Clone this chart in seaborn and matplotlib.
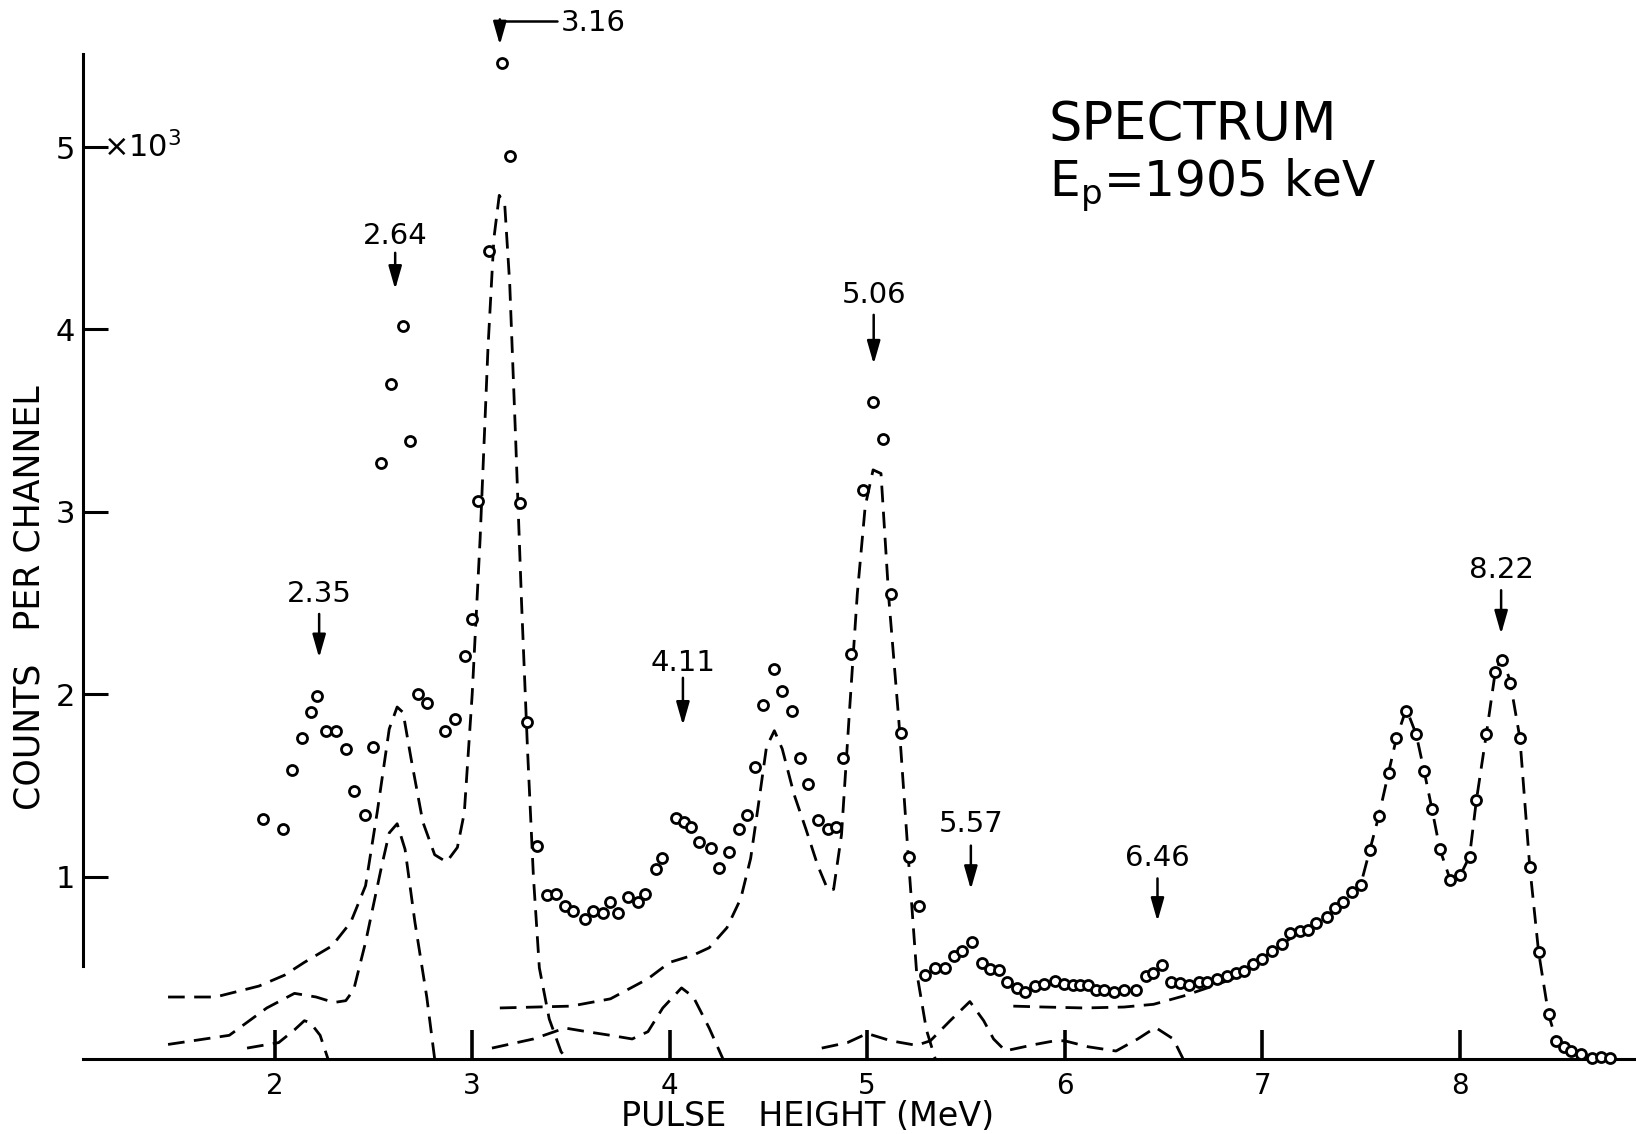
import matplotlib
matplotlib.use("Agg")
import matplotlib.pyplot as plt
import pandas as pd
import seaborn as sns

# === data (MeV, counts per channel in 10^3) ===
energy = [1.94, 2.04, 2.09, 2.14, 2.185, 2.215, 2.26, 2.31, 2.36, 2.40, 2.455, 2.50,
          2.54, 2.59, 2.65, 2.686, 2.726, 2.77, 2.863, 2.915, 2.963, 3.00, 3.03, 3.085,
          3.15, 3.19, 3.24, 3.28, 3.326, 3.378, 3.426, 3.47, 3.51, 3.57, 3.61, 3.66,
          3.70, 3.74, 3.79, 3.84, 3.875, 3.93, 3.96, 4.03, 4.07, 4.11, 4.15, 4.21,
          4.25, 4.30, 4.35, 4.39, 4.43, 4.475, 4.53, 4.57, 4.62, 4.66, 4.70, 4.75,
          4.80, 4.84, 4.88, 4.92, 4.98, 5.03, 5.08, 5.12, 5.17, 5.21, 5.26, 5.295,
          5.345, 5.395, 5.44, 5.48, 5.53, 5.58, 5.62, 5.67, 5.71, 5.76, 5.80, 5.85,
          5.895, 5.95, 5.995, 6.04, 6.08, 6.12, 6.16, 6.20, 6.25, 6.30, 6.36, 6.41,
          6.445, 6.495, 6.54, 6.585, 6.63, 6.68, 6.72, 6.77, 6.82, 6.87, 6.91, 6.955,
          7.00, 7.05, 7.10, 7.14, 7.19, 7.23, 7.275, 7.33, 7.37, 7.41, 7.455, 7.50,
          7.545, 7.59, 7.64, 7.68, 7.73, 7.78, 7.82, 7.86, 7.90, 7.95, 8.00, 8.05,
          8.085, 8.135, 8.18, 8.213, 8.254, 8.305, 8.355, 8.40, 8.45, 8.49, 8.53, 8.565,
          8.615, 8.67, 8.717, 8.76]
counts = [1.315, 1.26, 1.585, 1.76, 1.90, 1.99, 1.80, 1.80, 1.70, 1.47, 1.34, 1.71,
          3.27, 3.70, 4.02, 3.39, 2.00, 1.95, 1.80, 1.865, 2.21, 2.41, 3.06, 4.43,
          5.46, 4.95, 3.05, 1.85, 1.17, 0.90, 0.904, 0.84, 0.81, 0.77, 0.81, 0.80,
          0.86, 0.80, 0.89, 0.86, 0.906, 1.04, 1.10, 1.32, 1.30, 1.27, 1.19, 1.155,
          1.05, 1.135, 1.26, 1.34, 1.60, 1.94, 2.14, 2.02, 1.91, 1.65, 1.51, 1.31,
          1.26, 1.27, 1.65, 2.22, 3.12, 3.60, 3.40, 2.55, 1.79, 1.11, 0.84, 0.46,
          0.50, 0.50, 0.565, 0.59, 0.64, 0.525, 0.495, 0.49, 0.42, 0.39, 0.37, 0.40,
          0.41, 0.43, 0.41, 0.405, 0.405, 0.405, 0.38, 0.38, 0.37, 0.38, 0.38, 0.455,
          0.47, 0.515, 0.42, 0.415, 0.405, 0.42, 0.42, 0.44, 0.455, 0.47, 0.485, 0.52,
          0.55, 0.595, 0.63, 0.69, 0.70, 0.71, 0.745, 0.78, 0.83, 0.86, 0.915, 0.955,
          1.145, 1.33, 1.57, 1.76, 1.91, 1.78, 1.58, 1.37, 1.15, 0.98, 1.01, 1.11,
          1.42, 1.78, 2.12, 2.19, 2.06, 1.76, 1.055, 0.585, 0.245, 0.10, 0.067, 0.044,
          0.027, 0.005, 0.01, 0.005]

# dashed line shapes
shape_a_x = [1.46, 1.70, 1.92, 2.05, 2.15, 2.29, 2.385, 2.46, 2.52, 2.58, 2.62, 2.65,
             2.69, 2.75, 2.81, 2.87, 2.925, 2.96, 3.00, 3.04, 3.08, 3.11, 3.137, 3.165,
             3.19, 3.22, 3.25, 3.28, 3.31, 3.34, 3.39, 3.45, 3.48]
shape_a_y = [0.34, 0.34, 0.40, 0.46, 0.53, 0.62, 0.75, 0.95, 1.36, 1.81, 1.93, 1.90,
             1.65, 1.30, 1.12, 1.08, 1.16, 1.35, 2.00, 2.85, 3.90, 4.50, 4.735, 4.68,
             4.25, 3.40, 2.50, 1.70, 1.00, 0.50, 0.22, 0.04, 0.0]
shape_b_x = [1.46, 1.77, 1.96, 2.10, 2.21, 2.30, 2.36, 2.40, 2.46, 2.54, 2.58, 2.62,
             2.66, 2.71, 2.77, 2.81]
shape_b_y = [0.08, 0.13, 0.28, 0.36, 0.34, 0.31, 0.32, 0.38, 0.64, 1.05, 1.24, 1.29,
             1.15, 0.75, 0.34, 0.0]
shape_c_x = [1.86, 2.02, 2.10, 2.15, 2.18, 2.23, 2.27]
shape_c_y = [0.06, 0.09, 0.16, 0.21, 0.20, 0.13, 0.0]
shape_d_x = [3.10, 3.31, 3.47, 3.58, 3.70, 3.81, 3.89, 3.965, 4.06, 4.12, 4.20, 4.27]
shape_d_y = [0.06, 0.11, 0.17, 0.15, 0.13, 0.11, 0.15, 0.28, 0.39, 0.34, 0.17, 0.0]
shape_e_x = [3.14, 3.50, 3.70, 3.89, 4.00, 4.12, 4.20, 4.29, 4.36, 4.41, 4.45, 4.49,
             4.53, 4.57, 4.63, 4.69, 4.75, 4.80, 4.83, 4.87, 4.91, 4.95, 4.99, 5.03,
             5.07, 5.11, 5.16, 5.21, 5.25, 5.30, 5.345]
shape_e_y = [0.28, 0.29, 0.33, 0.44, 0.53, 0.57, 0.61, 0.72, 0.88, 1.10, 1.40, 1.71,
             1.80, 1.70, 1.45, 1.26, 1.06, 0.93, 0.93, 1.23, 1.90, 2.55, 3.03, 3.23,
             3.21, 2.52, 1.86, 1.08, 0.48, 0.16, 0.0]
shape_f_x = [4.77, 4.90, 5.00, 5.12, 5.25, 5.32, 5.42, 5.52, 5.59, 5.64, 5.70, 5.85,
             5.95, 6.00, 6.12, 6.26, 6.37, 6.46, 6.55, 6.60]
shape_f_y = [0.06, 0.09, 0.14, 0.10, 0.075, 0.10, 0.21, 0.315, 0.21, 0.11, 0.045, 0.08,
             0.10, 0.10, 0.067, 0.044, 0.11, 0.173, 0.11, 0.0]
shape_g_x = [5.74, 5.90, 6.10, 6.30, 6.45, 6.60, 6.75, 6.85, 6.95, 7.00, 7.05, 7.10,
             7.20, 7.30, 7.40, 7.50, 7.545, 7.59, 7.64, 7.68, 7.73, 7.78, 7.82, 7.86,
             7.90, 7.95, 8.00, 8.05, 8.085, 8.135, 8.18, 8.213, 8.254, 8.305, 8.355, 8.40,
             8.45, 8.49, 8.53, 8.57, 8.62, 8.70, 8.78]
shape_g_y = [0.29, 0.285, 0.28, 0.285, 0.30, 0.345, 0.40, 0.44, 0.50, 0.55, 0.595, 0.63,
             0.70, 0.76, 0.85, 0.96, 1.145, 1.33, 1.57, 1.76, 1.92, 1.78, 1.58, 1.37,
             1.15, 0.99, 1.00, 1.11, 1.42, 1.78, 2.12, 2.20, 2.08, 1.76, 1.055, 0.585,
             0.245, 0.10, 0.06, 0.04, 0.02, 0.005, 0.0]

peak_names = ["2.35", "2.64", "4.11", "5.06", "5.57", "6.46", "8.22"]
peak_energy = [2.225, 2.61, 4.067, 5.033, 5.525, 6.47, 8.21]

x_ticks = [2, 3, 4, 5, 6, 7, 8]
y_ticks = [1, 2, 3, 4, 5]

# === plot ===
sns.set_style("white")
plt.rcParams["font.family"] = ["DejaVu Sans"]
plt.rcParams["text.color"] = "black"
plt.rcParams["xtick.color"] = "black"
plt.rcParams["ytick.color"] = "black"

fig = plt.figure(figsize=(16.36, 11.34), dpi=100)
ax = fig.add_axes([0, 0, 1, 1])

df = pd.DataFrame({"energy": energy, "counts": counts})
dash = (0, (6, 3.4))
for sx, sy in [(shape_a_x, shape_a_y), (shape_b_x, shape_b_y), (shape_c_x, shape_c_y),
               (shape_d_x, shape_d_y), (shape_e_x, shape_e_y), (shape_f_x, shape_f_y),
               (shape_g_x, shape_g_y)]:
    sns.lineplot(x=sx, y=sy, ax=ax, color="black", lw=2.0, linestyle=dash,
                 sort=False, estimator=None)

sns.scatterplot(data=df, x="energy", y="counts", ax=ax, marker="o", s=52,
                facecolor="white", edgecolor="black", linewidth=2.0, zorder=3)

ax.set_xlim(0.609, 8.893)
ax.set_ylim(-0.411, 5.806)

# axes drawn the old way: spines crossing inside the frame
for side in ["top", "right"]:
    ax.spines[side].set_visible(False)
ax.spines["left"].set_position(("data", 1.03))
ax.spines["left"].set_bounds(0.51, 5.51)
ax.spines["bottom"].set_position(("data", 0))
ax.spines["bottom"].set_bounds(1.03, 8.893)
for side in ["left", "bottom"]:
    ax.spines[side].set_linewidth(2.2)
    ax.spines[side].set_color("black")

ax.set_xticks(x_ticks)
ax.set_yticks(y_ticks)
ax.set_xticklabels([str(t) for t in x_ticks])
ax.set_yticklabels([str(t) for t in y_ticks])
ax.tick_params(axis="x", bottom=True, direction="in", length=21, width=2.6, pad=9,
               labelsize=20, colors="black")
ax.tick_params(axis="y", left=True, direction="in", length=18, width=2.2, pad=6,
               labelsize=22, colors="black")
ax.set_xlabel("")
ax.set_ylabel("")

ax.text(1.13, 5.0, r"×10$^3$", fontsize=22, ha="left", va="center")
ax.text(0.756, 2.53, "COUNTS   PER CHANNEL", fontsize=25, rotation=90,
        ha="center", va="center")
ax.text(4.70, -0.315, "PULSE   HEIGHT (MeV)", fontsize=24, ha="center", va="center")

ax.text(5.92, 5.12, "SPECTRUM", fontsize=38, ha="left", va="center")
ax.text(5.92, 4.79, r"E$_\mathrm{p}$=1905 keV", fontsize=35, ha="left", va="center")

# peak markers
arrow_kw = dict(arrowstyle="-|>,head_length=0.7,head_width=0.2", color="black",
                lw=1.8, shrinkA=0, shrinkB=0, mutation_scale=20)
label_y = [2.55, 4.51, 2.17, 4.19, 1.29, 1.10, 2.68]
tail_y = [2.44, 4.42, 2.09, 4.08, 1.17, 0.99, 2.57]
head_y = [2.20, 4.22, 1.83, 3.81, 0.93, 0.755, 2.33]
for name, x, ty, ay0, ay1 in zip(peak_names, peak_energy, label_y, tail_y, head_y):
    ax.text(x, ty, name, fontsize=21, ha="center", va="center")
    ax.annotate("", xy=(x, ay1), xytext=(x, ay0), arrowprops=arrow_kw)

# 3.16 label sits to the side with an elbow arrow
ax.plot([3.14, 3.43], [5.69, 5.69], color="black", lw=1.8)
ax.annotate("", xy=(3.14, 5.56), xytext=(3.14, 5.70), arrowprops=arrow_kw)
ax.text(3.45, 5.68, "3.16", fontsize=21, ha="left", va="center")

plt.savefig("out.png", dpi=100, facecolor="white")
